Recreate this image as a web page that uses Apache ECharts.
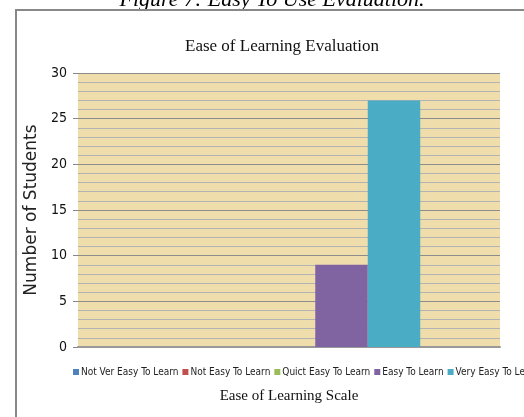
<!DOCTYPE html>
<html>
<head>
<meta charset="utf-8">
<script src="https://cdn.jsdelivr.net/npm/echarts@6/dist/echarts.min.js"></script>
<style>html,body{margin:0;padding:0;background:#fff;}#c{width:524px;height:417px;}</style>
</head>
<body>
<div id="c"></div>
<script>
const categories = [''];
const seriesNames = ['Not Ver Easy To Learn', 'Not Easy To Learn', 'Quict Easy To Learn', 'Easy To Learn', 'Very Easy To Learn'];
const seriesValues = [0, 0, 0, 9, 27];
const seriesColors = ['#4F81BD', '#C0504D', '#9BBB59', '#8064A2', '#4BACC6'];
const yTicks = [0, 5, 10, 15, 20, 25, 30];

const chart = echarts.init(document.getElementById('c'), null, {renderer: 'canvas'});
const narrow = '"Liberation Sans Narrow", "DejaVu Sans Condensed", "Liberation Sans", sans-serif';
const serif = '"Liberation Serif", "DejaVu Serif", serif';

const series = seriesNames.map((n, i) => ({
  name: n,
  type: 'bar',
  data: [seriesValues[i]],
  barGap: '0%',
  barCategoryGap: '37.8%',
  itemStyle: {color: seriesColors[i]},
  emphasis: {disabled: true}
}));

chart.setOption({
  animation: false,
  backgroundColor: '#ffffff',
  title: {
    text: 'Ease of Learning Evaluation',
    left: 277, top: 33,
    textAlign: 'center',
    textStyle: {fontFamily: serif, fontSize: 17, fontWeight: 'normal', color: '#111'}
  },
  graphic: [
    {type: 'rect', shape: {x: 16, y: 10, width: 560, height: 460}, style: {fill: 'none', stroke: '#888', lineWidth: 2}, z: 10, silent: true},
    {type: 'text', x: 272, y: 11, z: 5, style: {text: 'Figure 7: Easy To Use Evaluation.', textAlign: 'center', verticalAlign: 'bottom', font: 'italic 22px "Liberation Serif", serif', fill: '#000'}}
  ],
  legend: {
    data: seriesNames,
    left: 68, top: 362, width: 1000,
    itemWidth: 6, itemHeight: 6, itemGap: 4,
    icon: 'rect',
    textStyle: {fontFamily: narrow, fontSize: 10, color: '#222', padding: [0, 0, 0, -3]}
  },
  grid: {left: 78, right: 24, top: 73, bottom: 70, show: true, backgroundColor: '#F0DDAC', borderWidth: 0},
  xAxis: {
    type: 'category', data: categories,
    axisTick: {show: false}, axisLabel: {show: false},
    axisLine: {lineStyle: {color: '#999', width: 2}},
    name: 'Ease of Learning Scale', nameLocation: 'middle', nameGap: 42,
    nameTextStyle: {fontFamily: serif, fontSize: 15, color: '#111'}
  },
  yAxis: {
    type: 'value', min: yTicks[0], max: yTicks[yTicks.length - 1], interval: 5,
    axisLine: {show: false},
    axisTick: {show: true, length: 5, lineStyle: {color: '#888'}},
    axisLabel: {fontFamily: narrow, fontSize: 14, color: '#111', margin: 11},
    splitLine: {lineStyle: {color: '#8c8c8c', width: 1}},
    minorTick: {show: false, splitNumber: 5},
    minorSplitLine: {show: true, lineStyle: {color: '#b3b3b3', width: 1}},
    name: 'Number of Students', nameLocation: 'middle', nameGap: 34,
    nameTextStyle: {fontFamily: '"DejaVu Sans", sans-serif', fontSize: 17, color: '#222'}
  },
  series: series
});
</script>
</body>
</html>
